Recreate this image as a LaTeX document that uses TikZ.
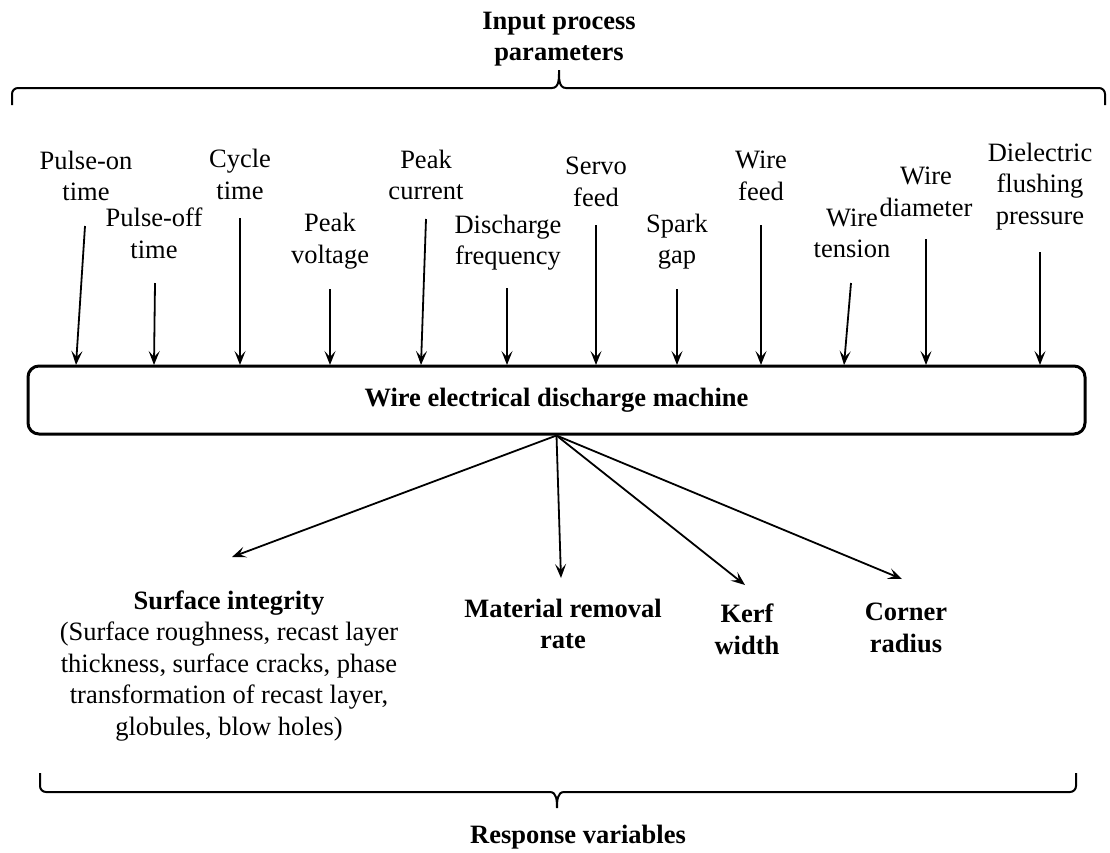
\documentclass[tikz,border=0pt]{standalone}
\usepackage{fontspec}
\setmainfont{Liberation Serif}
\usetikzlibrary{arrows.meta}

\tikzset{
  lbl/.style={align=center, inner sep=0pt, font=\fontsize{26.5}{31.5}\selectfont},
  head/.style={lbl, font=\fontsize{26.5}{31.5}\selectfont\bfseries},
  machine/.style={draw, line width=3pt, rounded corners=11pt, minimum width=1057pt,
    minimum height=68pt, font=\fontsize{26.5}{31.5}\selectfont\bfseries},
  arr/.style={line width=1.8pt, -{Stealth[length=14pt, width=11pt, inset=6pt]}},
  brace/.style={line width=2pt}
}

\begin{document}
\begin{tikzpicture}[
  x=1pt, y=-1pt
]
\useasboundingbox (0,0) rectangle (1110,852);

% top
\node [head] (title) at (559,39) {Input process\\parameters};
\draw [brace] (12,105) -- (12,94) to[out=90,in=180] (18,88) -- (552,88)
  to[out=0,in=-90] (559,70) to[out=-90,in=180] (566,88) -- (1099,88)
  to[out=0,in=90] (1105,94) -- (1105,105);

\node [lbl] (ton) at (86,176) {Pulse-on\\time};
\node [lbl] (toff) at (154,233.5) {Pulse-off\\time};
\node [lbl] (cyc) at (240,174.5) {Cycle\\time};
\node [lbl] (vpk) at (330,241) {Peak\\voltage};
\node [lbl] (ipk) at (426,175) {Peak\\current};
\node [lbl] (freq) at (508,242.5) {Discharge\\frequency};
\node [lbl] (servo) at (596,182) {Servo\\feed};
\node [lbl] (gap) at (677,241.5) {Spark\\gap};
\node [lbl] (wfeed) at (761,176) {Wire\\feed};
\node [lbl] (wten) at (852,233.5) {Wire\\tension};
\node [lbl] (wdia) at (926,192) {Wire\\diameter};
\node [lbl] (flush) at (1040,186.5) {Dielectric\\flushing\\pressure};

\node [machine] (wedm) at (556.5,400) {Wire electrical discharge machine};

\coordinate (ton-a) at (85,226);    \coordinate (ton-b) at (76,365);
\coordinate (toff-a) at (155,283);  \coordinate (toff-b) at (154,365);
\coordinate (cyc-a) at (240,218);   \coordinate (cyc-b) at (240,365);
\coordinate (vpk-a) at (330,289);   \coordinate (vpk-b) at (330,365);
\coordinate (ipk-a) at (426,219);   \coordinate (ipk-b) at (421,365);
\coordinate (freq-a) at (507,288);  \coordinate (freq-b) at (507,365);
\coordinate (servo-a) at (596,225); \coordinate (servo-b) at (596,365);
\coordinate (gap-a) at (677,289);   \coordinate (gap-b) at (677,365);
\coordinate (wfeed-a) at (761,225); \coordinate (wfeed-b) at (761,365);
\coordinate (wten-a) at (851,283);  \coordinate (wten-b) at (844,365);
\coordinate (wdia-a) at (926,239);  \coordinate (wdia-b) at (926,365);
\coordinate (flush-a) at (1040,252); \coordinate (flush-b) at (1040,365);

\draw [arr] (ton-a) -- (ton-b);
\draw [arr] (toff-a) -- (toff-b);
\draw [arr] (cyc-a) -- (cyc-b);
\draw [arr] (vpk-a) -- (vpk-b);
\draw [arr] (ipk-a) -- (ipk-b);
\draw [arr] (freq-a) -- (freq-b);
\draw [arr] (servo-a) -- (servo-b);
\draw [arr] (gap-a) -- (gap-b);
\draw [arr] (wfeed-a) -- (wfeed-b);
\draw [arr] (wten-a) -- (wten-b);
\draw [arr] (wdia-a) -- (wdia-b);
\draw [arr] (flush-a) -- (flush-b);

% bottom
\node [lbl] (surf) at (229,666) {\textbf{Surface integrity}\\(Surface roughness, recast layer\\thickness, surface cracks, phase\\transformation of recast layer,\\globules, blow holes)};
\node [head] (mrr) at (563,624) {Material removal\\rate};
\node [head] (kerf) at (747,629.5) {Kerf\\width};
\node [head] (corner) at (906,628) {Corner\\radius};

\coordinate (surf-t) at (232,557);
\coordinate (mrr-t) at (561,578);
\coordinate (kerf-t) at (745,585);
\coordinate (corner-t) at (902,579);

\draw [arr] (wedm.south) -- (surf-t);
\draw [arr] (wedm.south) -- (mrr-t);
\draw [arr] (wedm.south) -- (kerf-t);
\draw [arr] (wedm.south) -- (corner-t);

\draw [brace] (40,773) -- (40,786) to[out=-90,in=180] (46,792) -- (550,792)
  to[out=0,in=90] (557,808) to[out=90,in=180] (564,792) -- (1070,792)
  to[out=0,in=-90] (1076,786) -- (1076,773);
\node [head] (resp) at (578,837) {Response variables};
\end{tikzpicture}
\end{document}
